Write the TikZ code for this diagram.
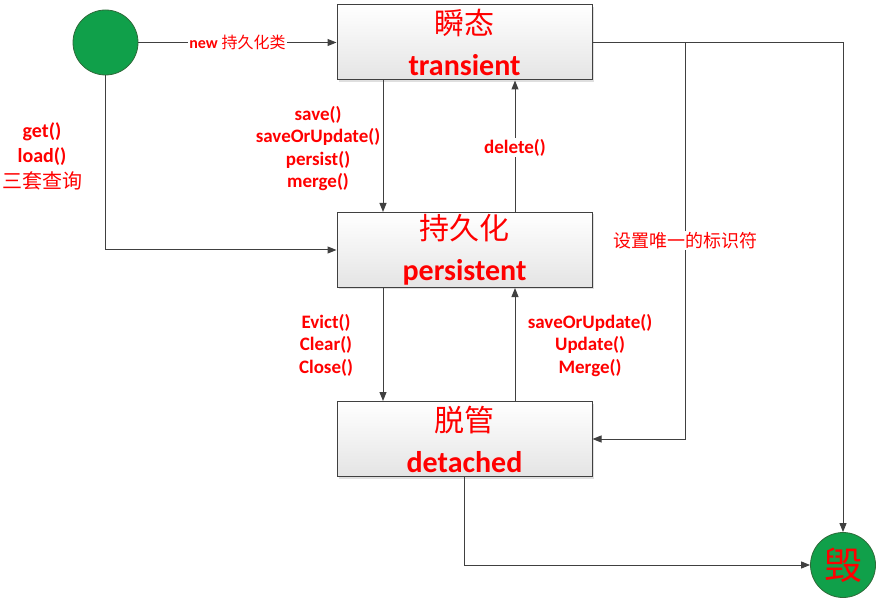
\documentclass[tikz,border=0pt]{standalone}
\usepackage{fontspec}
\setmainfont{Carlito}
\newfontfamily\cjk{Noto Sans CJK SC}
\usetikzlibrary{arrows.meta, shadows}
\definecolor{ln}{HTML}{404040}
\definecolor{txt}{HTML}{FF0000}
\definecolor{ball}{HTML}{10A04A}
\definecolor{ballrim}{HTML}{2E6B3A}
\definecolor{boxlo}{HTML}{E4E4E4}
\tikzset{
  state/.style={draw=ln, line width=1pt, top color=white, bottom color=boxlo, minimum width=255pt, minimum height=75pt,
    inner sep=0pt, align=center, text=txt, font=\fontsize{30}{41}\selectfont,
    drop shadow={shadow xshift=2pt, shadow yshift=-2pt, fill=black!25}},
  ball/.style={circle, draw=ballrim, line width=0.8pt, fill=ball, minimum size=65pt, inner sep=0pt, text=txt},
  a/.style={-{Triangle[length=9pt, width=7pt]}, draw=ln, line width=1pt},
  lbl/.style={text=txt, font=\fontsize{19}{22.5}\selectfont\bfseries, align=center, inner sep=1pt},
  cn/.style={text=txt, font=\cjk\fontsize{18}{22}\selectfont, fill=white, inner sep=1pt},
}

\begin{document}
\begin{tikzpicture}[x=1pt, y=-1pt]
\useasboundingbox (0,0) rectangle (877,601);

\node[ball]  (start) at (105.5, 42.5) {};
\node[state] (trans) at (464.5, 42.5) {{\cjk 瞬态}\\\textbf{transient}};
\node[state] (pers)  at (464.5, 250)  {{\cjk 持久化}\\\textbf{persistent}};
\node[state] (det)   at (464.5, 439)  {{\cjk 脱管}\\\textbf{detached}};
\node[ball, font=\cjk\fontsize{38}{38}\selectfont] (dest) at (843, 565) {毁};
\coordinate (fork) at (685, 42.5);

\node[lbl, font=\fontsize{20}{25.5}\selectfont\bfseries] (query) at (42, 156) {get()\\load()\\{\cjk\mdseries 三套查询}};
\node[lbl] (tosave)  at (318, 148.5) {save()\\saveOrUpdate()\\persist()\\merge()};
\node[lbl] (toevict) at (326, 345)   {Evict()\\Clear()\\Close()};
\node[lbl] (toupd)   at (590, 345.5) {saveOrUpdate()\\Update()\\Merge()};

\draw[a] (start) -- node[lbl, fill=white, font=\fontsize{16}{18}\selectfont] {\textbf{new} {\cjk 持久化类}} (trans);
\draw[a] (start) |- (pers);
\draw[a] ([xshift=-81.5pt]trans.south) -- ([xshift=-81.5pt]pers.north);
\draw[a] ([xshift=50.5pt]pers.north) -- node[lbl, fill=white, pos=0.49] {delete()} ([xshift=50.5pt]trans.south);
\draw[a] ([xshift=-81.5pt]pers.south) -- ([xshift=-81.5pt]det.north);
\draw[a] ([xshift=50.5pt]det.north) -- ([xshift=50.5pt]pers.south);
\draw[a] (trans) -| (dest);
\draw[a] (fork) |- node[cn, pos=0.25] {设置唯一的标识符} (det);
\draw[a] (det) |- (dest);
\end{tikzpicture}
\end{document}
